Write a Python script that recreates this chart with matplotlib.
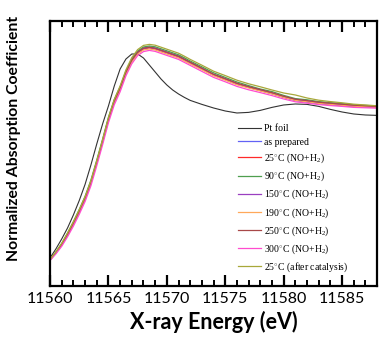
import matplotlib
matplotlib.use("Agg")
import matplotlib.pyplot as plt
from matplotlib.ticker import MultipleLocator

# ================= DATA =================
# 0.5 eV steps through the edge, 1 eV steps after
energy = [11560, 11560.5, 11561, 11561.5, 11562, 11562.5, 11563, 11563.5,
          11564, 11564.5, 11565, 11565.5, 11566, 11566.5, 11567, 11567.5,
          11568, 11568.5, 11569, 11569.5, 11570, 11570.5, 11571, 11571.5,
          11572, 11573, 11574, 11575, 11576, 11577, 11578, 11579, 11580,
          11581, 11582, 11583, 11584, 11585, 11586, 11587, 11588]

pt_foil = [0.235, 0.280, 0.330, 0.385, 0.450, 0.522, 0.603, 0.700, 0.805,
           0.905, 0.995, 1.095, 1.180, 1.230, 1.255, 1.255, 1.235, 1.200,
           1.165, 1.130, 1.100, 1.075, 1.055, 1.038, 1.023,
           1.003, 0.985, 0.970, 0.960, 0.963, 0.973, 0.988, 1.000, 1.005,
           1.003, 0.993, 0.978, 0.965, 0.955, 0.950, 0.948]

as_prepared = [0.226, 0.261, 0.302, 0.352, 0.408, 0.468, 0.533, 0.613, 0.713,
               0.818, 0.928, 1.018, 1.084, 1.165, 1.225, 1.265, 1.285, 1.290,
               1.285, 1.275, 1.265, 1.255, 1.245, 1.229, 1.213,
               1.183, 1.151, 1.130, 1.106, 1.089, 1.072, 1.056, 1.038, 1.022,
               1.014, 1.006, 1.001, 0.996, 0.992, 0.990, 0.988]

t25 = [0.225, 0.260, 0.300, 0.350, 0.405, 0.465, 0.530, 0.610, 0.710,
       0.815, 0.925, 1.015, 1.080, 1.160, 1.220, 1.260, 1.280, 1.285,
       1.280, 1.270, 1.260, 1.250, 1.240, 1.225, 1.210,
       1.180, 1.150, 1.128, 1.105, 1.088, 1.073, 1.058, 1.040, 1.025,
       1.018, 1.010, 1.005, 1.000, 0.995, 0.993, 0.990]

t90 = [0.227, 0.264, 0.307, 0.359, 0.416, 0.477, 0.543, 0.624, 0.724,
       0.829, 0.938, 1.027, 1.091, 1.170, 1.230, 1.270, 1.290, 1.295,
       1.291, 1.281, 1.271, 1.261, 1.251, 1.236, 1.220,
       1.191, 1.161, 1.138, 1.115, 1.097, 1.080, 1.067, 1.048, 1.032,
       1.026, 1.017, 1.012, 1.007, 1.001, 0.998, 0.995]

t150 = [0.225, 0.261, 0.302, 0.352, 0.407, 0.467, 0.532, 0.612, 0.712,
        0.817, 0.927, 1.017, 1.082, 1.162, 1.222, 1.262, 1.282, 1.287,
        1.282, 1.272, 1.262, 1.252, 1.242, 1.227, 1.212,
        1.182, 1.152, 1.130, 1.107, 1.090, 1.074, 1.059, 1.041, 1.026,
        1.019, 1.011, 1.006, 1.001, 0.996, 0.993, 0.990]

t190 = [0.227, 0.263, 0.303, 0.353, 0.408, 0.468, 0.533, 0.613, 0.713,
        0.818, 0.926, 1.014, 1.077, 1.156, 1.215, 1.255, 1.275, 1.280,
        1.275, 1.265, 1.255, 1.245, 1.235, 1.220, 1.205,
        1.176, 1.146, 1.124, 1.101, 1.085, 1.070, 1.055, 1.038, 1.023,
        1.016, 1.008, 1.003, 0.998, 0.994, 0.991, 0.989]

t250 = [0.226, 0.262, 0.303, 0.353, 0.409, 0.469, 0.534, 0.614, 0.714,
        0.819, 0.929, 1.019, 1.084, 1.164, 1.224, 1.264, 1.284, 1.289,
        1.284, 1.274, 1.264, 1.254, 1.244, 1.229, 1.214,
        1.184, 1.154, 1.132, 1.109, 1.092, 1.077, 1.062, 1.044, 1.029,
        1.022, 1.014, 1.009, 1.004, 0.999, 0.996, 0.993]

t300 = [0.222, 0.255, 0.293, 0.341, 0.394, 0.453, 0.517, 0.596, 0.696,
        0.801, 0.911, 1.001, 1.066, 1.146, 1.206, 1.247, 1.267, 1.273,
        1.268, 1.258, 1.248, 1.238, 1.228, 1.213, 1.198,
        1.168, 1.138, 1.116, 1.093, 1.076, 1.062, 1.047, 1.030, 1.016,
        1.009, 1.002, 0.997, 0.993, 0.988, 0.986, 0.984]

after_cat = [0.227, 0.265, 0.308, 0.360, 0.416, 0.476, 0.541, 0.621, 0.721,
             0.826, 0.937, 1.028, 1.095, 1.176, 1.237, 1.277, 1.298, 1.303,
             1.299, 1.289, 1.279, 1.269, 1.259, 1.244, 1.228,
             1.199, 1.169, 1.147, 1.124, 1.106, 1.091, 1.075, 1.060, 1.050,
             1.035, 1.024, 1.017, 1.011, 1.004, 1.000, 0.996]

labels = ["Pt foil", "as prepared",
          r"25$^{\circ}$C (NO+H$_{2}$)", r"90$^{\circ}$C (NO+H$_{2}$)",
          r"150$^{\circ}$C (NO+H$_{2}$)", r"190$^{\circ}$C (NO+H$_{2}$)",
          r"250$^{\circ}$C (NO+H$_{2}$)", r"300$^{\circ}$C (NO+H$_{2}$)",
          r"25$^{\circ}$C (after catalysis)"]
colors = ["#333333", "#6262f5", "#ff2a2a", "#4f9f4f", "#9a3fc0",
          "#ffa85a", "#a84848", "#ff4ccf", "#a8a83a"]
series = [pt_foil, as_prepared, t25, t90, t150, t190, t250, t300, after_cat]

# ================= PLOT =================
plt.rcParams['mathtext.fontset'] = 'custom'
plt.rcParams['mathtext.rm'] = 'Liberation Serif'
plt.rcParams['mathtext.it'] = 'Liberation Serif:italic'

fig = plt.figure(figsize=(3.79, 3.5), dpi=100)
ax = fig.add_axes([0.132, 0.183, 0.863, 0.757])

for vals, col, lab in zip(series, colors, labels):
    lw = 0.8 if lab == "Pt foil" else 0.9
    ax.plot(energy, vals, color=col, lw=lw, label=lab)

ax.set_xlim(11560, 11588)
ax.set_ylim(0.095, 1.42)
ax.set_yticks([])

ax.xaxis.set_major_locator(MultipleLocator(5))
ax.xaxis.set_minor_locator(MultipleLocator(1))
ax.tick_params(axis='x', which='major', direction='in', top=True, bottom=True,
               length=8, width=1.6, labelsize=11.5, pad=4)
ax.tick_params(axis='x', which='minor', direction='in', top=True, bottom=True,
               length=4.5, width=1.4)
for lbl in ax.get_xticklabels():
    lbl.set_family('Lato')

for sp in ax.spines.values():
    sp.set_linewidth(1.6)

ax.set_xlabel("X-ray Energy (eV)", family='Lato', fontweight='bold',
              fontsize=15.5, labelpad=4)
ax.set_ylabel("Normalized Absorption Coefficient", family='Lato',
              fontweight='bold', fontsize=11.3)
# label sits a bit above the axes centre in the original
ax.yaxis.set_label_coords(-0.089, 0.555)

leg = ax.legend(loc='lower right', bbox_to_anchor=(0.94, 0.012), frameon=False,
                prop={'family': 'Liberation Serif', 'size': 7},
                handlelength=2.4, handletextpad=0.35, labelspacing=0.48)

fig.savefig("out.png", dpi=100)
